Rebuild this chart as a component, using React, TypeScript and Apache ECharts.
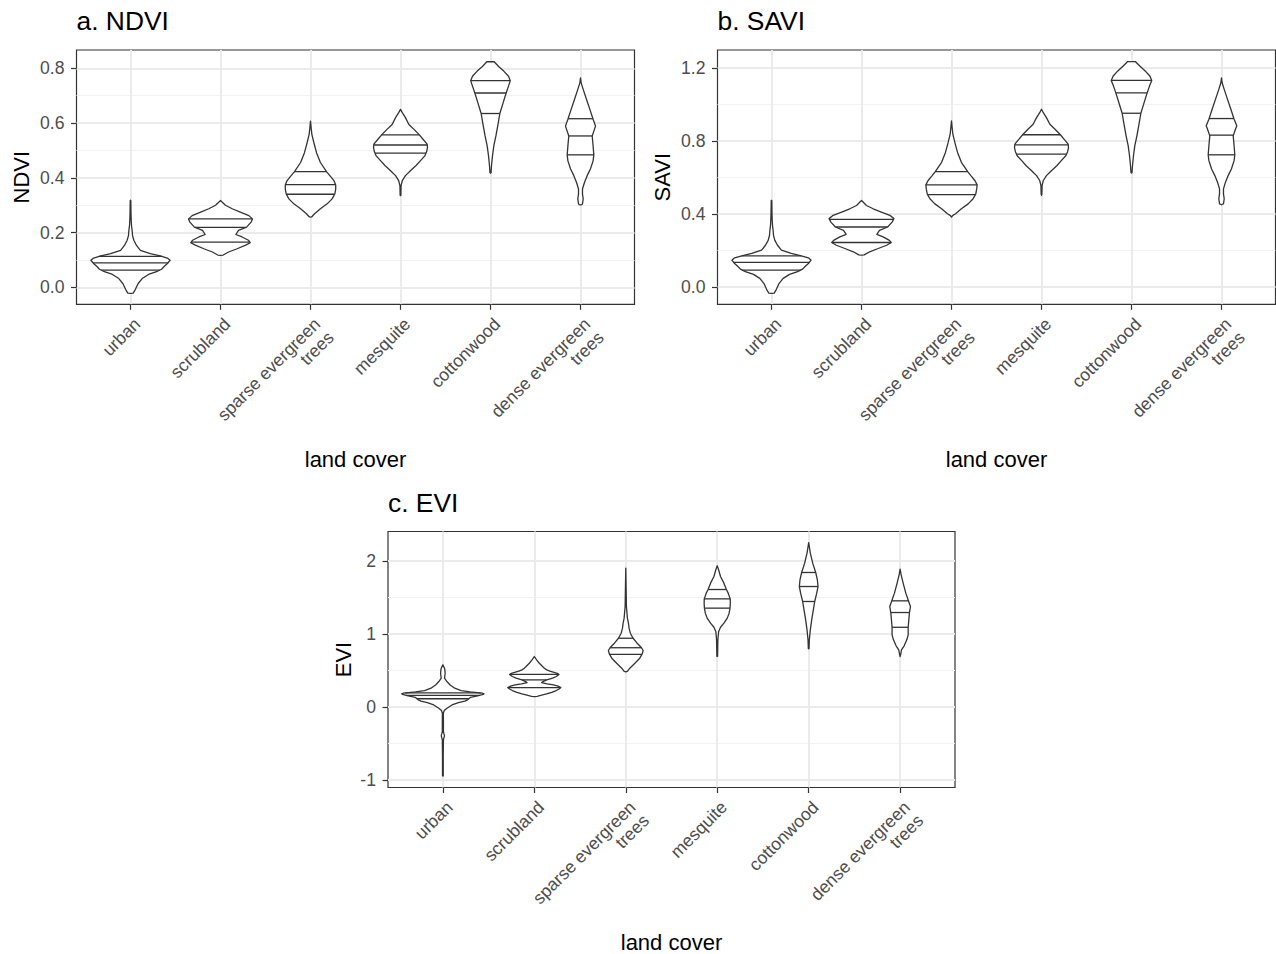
import { useEffect, useRef } from "react";
import * as echarts from "echarts";

// Land-cover classes along the x axis (index = position on the axis)
const CATEGORIES = [
  "urban",
  "scrubland",
  "sparse evergreen\ntrees",
  "mesquite",
  "cottonwood",
  "dense evergreen\ntrees",
];
const CATEGORY_INDEX = [0, 1, 2, 3, 4, 5];

// Violin outlines: [index value, half-width in category units], bottom to top.
const NDVI_URBAN = [[-0.022, 0], [-0.021, 0.03], [-0.01, 0.05], [0.014, 0.085], [0.032, 0.13], [0.047, 0.2], [0.057, 0.29], [0.066, 0.345], [0.075, 0.37], [0.087, 0.41], [0.099, 0.44], [0.107, 0.41], [0.115, 0.33], [0.123, 0.22], [0.135, 0.11], [0.153, 0.067], [0.172, 0.037], [0.19, 0.022], [0.208, 0.018], [0.226, 0.011], [0.25, 0.007], [0.275, 0.005], [0.317, 0.003], [0.318, 0]];
const NDVI_SCRUB = [[0.117, 0], [0.118, 0.03], [0.129, 0.09], [0.141, 0.185], [0.154, 0.28], [0.163, 0.33], [0.172, 0.31], [0.184, 0.24], [0.193, 0.17], [0.208, 0.2], [0.22, 0.29], [0.238, 0.34], [0.25, 0.355], [0.262, 0.315], [0.275, 0.22], [0.287, 0.13], [0.3, 0.055], [0.311, 0.02], [0.317, 0]];
const NDVI_SPARSE = [[0.256, 0], [0.258, 0.015], [0.269, 0.045], [0.287, 0.11], [0.305, 0.185], [0.323, 0.24], [0.341, 0.27], [0.359, 0.28], [0.374, 0.28], [0.39, 0.26], [0.408, 0.215], [0.422, 0.18], [0.456, 0.11], [0.492, 0.067], [0.529, 0.037], [0.559, 0.015], [0.583, 0.007], [0.607, 0]];
const NDVI_MESQUITE = [[0.335, 0], [0.337, 0.004], [0.371, 0.006], [0.39, 0.02], [0.408, 0.055], [0.426, 0.11], [0.444, 0.17], [0.462, 0.22], [0.48, 0.27], [0.495, 0.29], [0.511, 0.3], [0.523, 0.296], [0.541, 0.25], [0.557, 0.21], [0.577, 0.15], [0.595, 0.093], [0.62, 0.055], [0.638, 0.02], [0.65, 0]];
const NDVI_COTTON = [[0.417, 0], [0.419, 0.006], [0.444, 0.011], [0.48, 0.022], [0.517, 0.037], [0.553, 0.06], [0.589, 0.08], [0.635, 0.104], [0.674, 0.14], [0.71, 0.174], [0.735, 0.2], [0.755, 0.22], [0.771, 0.2], [0.789, 0.15], [0.807, 0.09], [0.822, 0.046], [0.824, 0.044]];
const NDVI_DENSE = [[0.301, 0], [0.302, 0.015], [0.305, 0.022], [0.323, 0.03], [0.341, 0.022], [0.359, 0.022], [0.383, 0.044], [0.408, 0.074], [0.432, 0.11], [0.462, 0.14], [0.483, 0.148], [0.517, 0.14], [0.553, 0.13], [0.577, 0.155], [0.589, 0.167], [0.614, 0.14], [0.65, 0.104], [0.686, 0.067], [0.723, 0.03], [0.747, 0.007], [0.765, 0]];
const NDVI_QUARTILES = [[0.063, 0.089, 0.113], [0.165, 0.219, 0.25], [0.34, 0.375, 0.423], [0.49, 0.52, 0.557], [0.635, 0.71, 0.755], [0.484, 0.553, 0.616]];

const SAVI_URBAN = [[-0.035, 0], [-0.034, 0.03], [-0.017, 0.05], [0.02, 0.085], [0.047, 0.13], [0.069, 0.2], [0.084, 0.29], [0.098, 0.345], [0.111, 0.37], [0.129, 0.41], [0.147, 0.44], [0.16, 0.41], [0.171, 0.33], [0.184, 0.22], [0.202, 0.11], [0.229, 0.067], [0.256, 0.037], [0.284, 0.022], [0.311, 0.018], [0.338, 0.011], [0.375, 0.007], [0.411, 0.005], [0.474, 0.003], [0.475, 0]];
const SAVI_SCRUB = [[0.175, 0], [0.176, 0.03], [0.193, 0.09], [0.211, 0.185], [0.229, 0.28], [0.244, 0.33], [0.256, 0.31], [0.275, 0.24], [0.289, 0.17], [0.311, 0.2], [0.329, 0.29], [0.356, 0.34], [0.375, 0.36], [0.393, 0.315], [0.411, 0.22], [0.429, 0.13], [0.447, 0.055], [0.465, 0.02], [0.475, 0]];
const SAVI_SPARSE = [[0.384, 0], [0.393, 0.015], [0.402, 0.045], [0.429, 0.11], [0.456, 0.185], [0.484, 0.24], [0.511, 0.27], [0.538, 0.28], [0.56, 0.285], [0.584, 0.26], [0.611, 0.215], [0.633, 0.18], [0.684, 0.11], [0.738, 0.067], [0.793, 0.037], [0.838, 0.015], [0.875, 0.007], [0.911, 0]];
const SAVI_MESQUITE = [[0.502, 0], [0.511, 0.004], [0.556, 0.006], [0.584, 0.02], [0.611, 0.055], [0.638, 0.11], [0.665, 0.17], [0.693, 0.22], [0.72, 0.27], [0.742, 0.29], [0.765, 0.3], [0.784, 0.296], [0.811, 0.25], [0.835, 0.21], [0.865, 0.15], [0.893, 0.093], [0.929, 0.055], [0.956, 0.02], [0.975, 0]];
const SAVI_COTTON = [[0.625, 0], [0.629, 0.006], [0.665, 0.011], [0.72, 0.022], [0.775, 0.037], [0.829, 0.06], [0.884, 0.08], [0.953, 0.104], [1.011, 0.14], [1.065, 0.174], [1.102, 0.2], [1.133, 0.225], [1.156, 0.205], [1.184, 0.155], [1.211, 0.095], [1.233, 0.05], [1.236, 0.048]];
const SAVI_DENSE = [[0.451, 0], [0.455, 0.015], [0.456, 0.022], [0.484, 0.03], [0.511, 0.022], [0.538, 0.022], [0.575, 0.044], [0.611, 0.074], [0.647, 0.11], [0.693, 0.14], [0.724, 0.148], [0.775, 0.14], [0.829, 0.13], [0.865, 0.155], [0.884, 0.17], [0.92, 0.14], [0.975, 0.104], [1.029, 0.067], [1.084, 0.03], [1.12, 0.007], [1.147, 0]];
const SAVI_QUARTILES = [[0.093, 0.135, 0.171], [0.244, 0.329, 0.371], [0.507, 0.56, 0.633], [0.729, 0.78, 0.835], [0.953, 1.065, 1.133], [0.725, 0.833, 0.924]];

const EVI_URBAN = [[-0.945, 0], [-0.944, 0.004], [-0.68, 0.004], [-0.45, 0.006], [-0.42, 0.012], [-0.397, 0.018], [-0.37, 0.012], [-0.338, 0.006], [-0.178, 0.006], [-0.087, 0.005], [-0.05, 0.015], [-0.018, 0.044], [0.027, 0.1], [0.059, 0.17], [0.08, 0.24], [0.096, 0.27], [0.11, 0.28], [0.13, 0.3], [0.15, 0.38], [0.17, 0.44], [0.18, 0.45], [0.19, 0.43], [0.205, 0.3], [0.224, 0.2], [0.256, 0.13], [0.301, 0.08], [0.347, 0.044], [0.393, 0.018], [0.43, 0.022], [0.461, 0.025], [0.5, 0.022], [0.53, 0.018], [0.575, 0]];
const EVI_SCRUB = [[0.142, 0], [0.145, 0.03], [0.16, 0.08], [0.178, 0.135], [0.2, 0.19], [0.224, 0.24], [0.245, 0.27], [0.265, 0.29], [0.285, 0.26], [0.301, 0.21], [0.315, 0.14], [0.333, 0.08], [0.35, 0.1], [0.37, 0.135], [0.395, 0.2], [0.416, 0.24], [0.443, 0.27], [0.46, 0.25], [0.47, 0.225], [0.49, 0.17], [0.507, 0.135], [0.53, 0.11], [0.553, 0.09], [0.598, 0.055], [0.644, 0.025], [0.69, 0]];
const EVI_SPARSE = [[0.479, 0], [0.49, 0.02], [0.53, 0.044], [0.598, 0.1], [0.667, 0.153], [0.726, 0.18], [0.772, 0.19], [0.813, 0.17], [0.872, 0.124], [0.94, 0.08], [1.009, 0.05], [1.078, 0.036], [1.146, 0.029], [1.215, 0.018], [1.374, 0.007], [1.603, 0.004], [1.9, 0]];
const EVI_MESQUITE = [[0.69, 0], [0.692, 0.004], [0.918, 0.007], [1.03, 0.015], [1.09, 0.036], [1.146, 0.073], [1.215, 0.11], [1.283, 0.13], [1.352, 0.14], [1.42, 0.143], [1.479, 0.142], [1.557, 0.12], [1.607, 0.1], [1.694, 0.073], [1.785, 0.036], [1.877, 0.015], [1.932, 0]];
const EVI_COTTON = [[0.795, 0], [0.8, 0.004], [0.918, 0.007], [1.055, 0.018], [1.192, 0.033], [1.329, 0.051], [1.443, 0.066], [1.557, 0.088], [1.648, 0.102], [1.74, 0.095], [1.84, 0.077], [1.968, 0.044], [2.105, 0.018], [2.25, 0]];
const EVI_DENSE = [[0.69, 0], [0.72, 0.006], [0.781, 0.015], [0.836, 0.044], [0.918, 0.073], [0.986, 0.088], [1.09, 0.088], [1.192, 0.095], [1.292, 0.102], [1.374, 0.113], [1.452, 0.091], [1.557, 0.062], [1.694, 0.033], [1.808, 0.011], [1.886, 0]];
const EVI_QUARTILES = [[0.112, 0.158, 0.192], [0.265, 0.37, 0.445], [0.72, 0.81, 0.94], [1.352, 1.479, 1.607], [1.443, 1.648, 1.84], [1.09, 1.292, 1.452]];

// Axis breaks
const NDVI_TICKS = [0, 0.2, 0.4, 0.6, 0.8];
const NDVI_MINOR = [0.1, 0.3, 0.5, 0.7];
const SAVI_TICKS = [0, 0.4, 0.8, 1.2];
const SAVI_MINOR = [0.2, 0.6, 1.0];
const EVI_TICKS = [-1, 0, 1, 2];
const EVI_MINOR = [-0.5, 0.5, 1.5];

const FONT = "'Liberation Sans', Arial, Helvetica, sans-serif";
const INK = "#333333";
const TICK_FONT = 17.6;
const AXIS_TITLE_FONT = 22;
const PLOT_TITLE_FONT = 26.4;

type Profile = number[][];

const PANELS = [
  {
    title: "a. NDVI",
    yName: "NDVI",
    rect: { left: 76.5, top: 50, width: 558, height: 254.3 },
    yMin: -0.062,
    yMax: 0.867,
    ticks: NDVI_TICKS,
    minor: NDVI_MINOR,
    decimals: 1,
    yNameGap: 44,
    profiles: [NDVI_URBAN, NDVI_SCRUB, NDVI_SPARSE, NDVI_MESQUITE, NDVI_COTTON, NDVI_DENSE],
    quartiles: NDVI_QUARTILES,
  },
  {
    title: "b. SAVI",
    yName: "SAVI",
    rect: { left: 717.5, top: 50, width: 558, height: 254.3 },
    yMin: -0.095,
    yMax: 1.3,
    ticks: SAVI_TICKS,
    minor: SAVI_MINOR,
    decimals: 1,
    yNameGap: 44,
    profiles: [SAVI_URBAN, SAVI_SCRUB, SAVI_SPARSE, SAVI_MESQUITE, SAVI_COTTON, SAVI_DENSE],
    quartiles: SAVI_QUARTILES,
  },
  {
    title: "c. EVI",
    yName: "EVI",
    rect: { left: 388, top: 531.5, width: 567, height: 256 },
    yMin: -1.103,
    yMax: 2.401,
    ticks: EVI_TICKS,
    minor: EVI_MINOR,
    decimals: 0,
    yNameGap: 34,
    profiles: [EVI_URBAN, EVI_SCRUB, EVI_SPARSE, EVI_MESQUITE, EVI_COTTON, EVI_DENSE],
    quartiles: EVI_QUARTILES,
  },
];

// Half-width of a violin outline at a given value (linear between outline points)
function halfWidthAt(profile: Profile, v: number): number {
  for (let i = 1; i < profile.length; i++) {
    const [v0, w0] = profile[i - 1];
    const [v1, w1] = profile[i];
    if (v >= v0 && v <= v1) {
      const t = v1 === v0 ? 0 : (v - v0) / (v1 - v0);
      return w0 + (w1 - w0) * t;
    }
  }
  return 0;
}

function violinRenderer(profiles: Profile[], quartiles: number[][]) {
  return (_params: any, api: any) => {
    const c = api.value(0) as number;
    const prof = profiles[c];
    const right = prof.map(([v, w]) => api.coord([c + w, v]));
    const left = prof
      .slice()
      .reverse()
      .map(([v, w]) => api.coord([c - w, v]));
    const children: any[] = [
      {
        type: "polygon",
        shape: { points: right.concat(left) },
        style: { fill: "#ffffff", stroke: INK, lineWidth: 1.3, lineJoin: "round" },
      },
    ];
    for (const q of quartiles[c]) {
      const w = halfWidthAt(prof, q);
      const p1 = api.coord([c - w, q]);
      const p2 = api.coord([c + w, q]);
      children.push({
        type: "line",
        shape: { x1: p1[0], y1: p1[1], x2: p2[0], y2: p2[1] },
        style: { stroke: INK, lineWidth: 1.3 },
      });
    }
    return { type: "group", children };
  };
}

function buildOption() {
  const grid: any[] = [];
  const xAxis: any[] = [];
  const yAxis: any[] = [];
  const series: any[] = [];
  const title: any[] = [];

  PANELS.forEach((p, i) => {
    grid.push({
      ...p.rect,
      show: true,
      borderColor: INK,
      borderWidth: 1.2,
      backgroundColor: "transparent",
      containLabel: false,
      outerBoundsMode: "none",
    });
    title.push({
      text: p.title,
      left: p.rect.left,
      top: p.rect.top - 42,
      padding: 0,
      textStyle: { fontSize: PLOT_TITLE_FONT, fontWeight: "normal", color: "#000", fontFamily: FONT },
    });
    xAxis.push({
      type: "value",
      gridIndex: i,
      min: -0.6,
      max: 5.6,
      axisLine: { show: false, onZero: false },
      axisTick: {
        show: true,
        customValues: CATEGORY_INDEX,
        length: 5.5,
        lineStyle: { color: INK, width: 1.2 },
      },
      axisLabel: {
        customValues: CATEGORY_INDEX,
        formatter: (v: number) => CATEGORIES[Math.round(v)],
        rotate: 45,
        align: "right",
        verticalAlign: "top",
        margin: 10,
        color: "#4D4D4D",
        fontSize: TICK_FONT,
        lineHeight: 19,
        fontFamily: FONT,
      },
      splitLine: { show: true, lineStyle: { color: "#EBEBEB", width: 2 } },
      name: "land cover",
      nameLocation: "middle",
      nameGap: 144,
      nameTextStyle: { fontSize: AXIS_TITLE_FONT, color: "#000", fontFamily: FONT, verticalAlign: "top" },
    });
    yAxis.push({
      type: "value",
      gridIndex: i,
      position: "left",
      min: p.yMin,
      max: p.yMax,
      axisLine: { show: false, onZero: false },
      axisTick: {
        show: true,
        customValues: p.ticks,
        length: 5.5,
        lineStyle: { color: INK, width: 1.2 },
      },
      axisLabel: {
        customValues: p.ticks,
        formatter: (v: number) => v.toFixed(p.decimals),
        margin: 12,
        color: "#4D4D4D",
        fontSize: TICK_FONT,
        fontFamily: FONT,
      },
      splitLine: { show: true, lineStyle: { color: "#EBEBEB", width: 2 } },
      name: p.yName,
      nameLocation: "middle",
      nameGap: p.yNameGap,
      nameTextStyle: { fontSize: AXIS_TITLE_FONT, color: "#000", fontFamily: FONT },
    });
    // Companion axis carrying only the minor grid lines
    yAxis.push({
      type: "value",
      gridIndex: i,
      position: "left",
      min: p.yMin,
      max: p.yMax,
      axisLine: { show: false, onZero: false },
      axisTick: { show: false, customValues: p.minor },
      axisLabel: { show: false, customValues: p.minor },
      splitLine: { show: true, lineStyle: { color: "#F2F2F2", width: 1.1 } },
    });
    series.push({
      type: "custom",
      name: p.yName,
      xAxisIndex: i,
      yAxisIndex: 2 * i,
      data: CATEGORY_INDEX.map((c) => [c]),
      renderItem: violinRenderer(p.profiles, p.quartiles),
      silent: true,
      z: 3,
    });
  });

  return {
    animation: false,
    backgroundColor: "#ffffff",
    textStyle: { fontFamily: FONT },
    title,
    grid,
    xAxis,
    yAxis,
    series,
  };
}

export default function App() {
  const ref = useRef<HTMLDivElement>(null);
  useEffect(() => {
    if (!ref.current) return;
    const chart = echarts.init(ref.current, undefined, { renderer: "svg" });
    chart.setOption(buildOption() as any);
    return () => chart.dispose();
  }, []);
  return (
    <div
      ref={ref}
      style={{ position: "absolute", left: 0, top: 0, width: 1276, height: 954, background: "#fff" }}
    />
  );
}
